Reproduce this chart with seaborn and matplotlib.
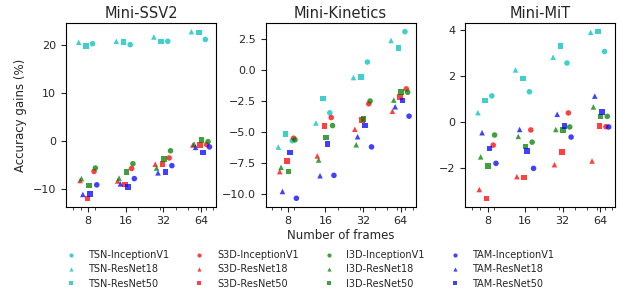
import numpy as np
import pandas as pd
import matplotlib
matplotlib.use("Agg")
import matplotlib.pyplot as plt
from matplotlib.lines import Line2D
from matplotlib.ticker import MultipleLocator, LogLocator, NullFormatter
import seaborn as sns

frames = [8, 16, 32, 64]
models = ["TSN", "S3D", "I3D", "TAM"]
backbones = ["InceptionV1", "ResNet18", "ResNet50"]
datasets = ["Mini-SSV2", "Mini-Kinetics", "Mini-MiT"]

# values per model: [InceptionV1, ResNet18, ResNet50] x frames
ssv2_tsn = [[20.3, 20.1, 20.8, 21.2], [20.6, 20.8, 21.7, 22.8], [19.8, 20.7, 20.8, 22.6]]
ssv2_s3d = [[-6.3, -5.7, -3.5, -0.7], [-8.2, -8.3, -4.8, -0.8], [-11.9, -9.0, -4.8, -0.8]]
ssv2_i3d = [[-5.6, -4.7, -2.0, -0.1], [-7.8, -7.7, -5.6, -0.6], [-9.2, -6.4, -3.7, 0.2]]
ssv2_tam = [[-9.1, -7.8, -5.1, -1.2], [-11.1, -8.9, -6.6, -1.3], [-11.0, -9.6, -6.4, -2.4]]

kin_tsn = [[-5.7, -3.45, 0.65, 3.1], [-6.22, -4.27, -0.6, 2.39], [-5.16, -2.31, -0.54, 1.77]]
kin_s3d = [[-5.5, -3.83, -2.72, -1.52], [-8.2, -6.93, -4.78, -3.32], [-7.34, -4.51, -4.02, -2.15]]
kin_i3d = [[-5.63, -4.48, -2.5, -1.79], [-7.85, -7.26, -6.03, -2.42], [-8.2, -5.43, -3.94, -1.77]]
kin_tam = [[-10.35, -8.5, -6.2, -3.72], [-9.8, -8.53, -5.38, -2.96], [-6.66, -5.98, -4.46, -2.45]]

mit_tsn = [[1.12, 1.3, 2.55, 3.05], [0.39, 2.25, 2.8, 3.88], [0.92, 1.88, 3.28, 3.91]]
mit_s3d = [[-1.02, -0.36, 0.38, -0.22], [-2.95, -2.39, -1.87, -1.71], [-3.33, -2.42, -1.33, -0.18]]
mit_i3d = [[-0.58, -0.89, -0.23, 0.23], [-1.53, -0.64, -0.34, 0.64], [-1.93, -1.08, -0.36, 0.22]]
mit_tam = [[-1.81, -2.03, -0.67, -0.23], [-0.48, -0.34, 0.32, 1.11], [-1.17, -1.28, -0.18, 0.42]]

panel_data = {
    "Mini-SSV2": [ssv2_tsn, ssv2_s3d, ssv2_i3d, ssv2_tam],
    "Mini-Kinetics": [kin_tsn, kin_s3d, kin_i3d, kin_tam],
    "Mini-MiT": [mit_tsn, mit_s3d, mit_i3d, mit_tam],
}
y_tick_step = {"Mini-SSV2": 10, "Mini-Kinetics": 2.5, "Mini-MiT": 2}

# layout: horizontal dodge (in octaves) so the markers don't overlap
backbone_shift = {"ResNet18": -0.20, "ResNet50": -0.005, "InceptionV1": 0.17}
model_shift = {"TSN": -0.055, "S3D": -0.018, "I3D": 0.018, "TAM": 0.055}

palette = {"TSN": "#00bfbf", "S3D": "#ff0000", "I3D": "#008000", "TAM": "#0000ff"}
marker_map = {"InceptionV1": "o", "ResNet18": "^", "ResNet50": "s"}

rows = []
for ds in datasets:
    for mi, m in enumerate(models):
        for bi, b in enumerate(backbones):
            for fi, f in enumerate(frames):
                rows.append(dict(dataset=ds, model=m, backbone=b, frames=f,
                                 x=f * 2 ** (backbone_shift[b] + model_shift[m]),
                                 gain=panel_data[ds][mi][bi][fi]))
df = pd.DataFrame(rows)

sns.set_style("ticks")
plt.rcParams["font.family"] = ["DejaVu Sans"]

fig, axes = plt.subplots(1, 3, figsize=(6.19, 2.96), dpi=100)
fig.subplots_adjust(left=0.1066, right=0.994, top=0.921, bottom=0.302, wspace=0.33)

for ax, ds in zip(axes, datasets):
    sub = df[df.dataset == ds]
    sns.scatterplot(data=sub, x="x", y="gain", hue="model", style="backbone",
                    palette=palette, markers=marker_map, hue_order=models,
                    style_order=backbones, s=16, alpha=0.75, linewidth=0,
                    legend=False, ax=ax)
    ax.set_xscale("log")
    ax.set_xlim(5.3, 84.5)
    ax.set_xticks(frames)
    ax.set_xticklabels([str(f) for f in frames])
    ax.xaxis.set_minor_locator(LogLocator(base=10, subs=np.arange(2, 10)))
    ax.xaxis.set_minor_formatter(NullFormatter())
    ax.yaxis.set_major_locator(MultipleLocator(y_tick_step[ds]))
    ax.set_title(ds, fontsize=10.5, pad=4)
    ax.set_xlabel("")
    ax.set_ylabel("")
    ax.tick_params(axis="both", which="major", labelsize=8, length=3.5, width=0.8)
    ax.tick_params(axis="x", which="minor", length=2, width=0.6, bottom=True)
    for sp in ax.spines.values():
        sp.set_visible(True)
        sp.set_color("black")
        sp.set_linewidth(0.8)

axes[0].set_ylabel("Accuracy gains (%)", fontsize=8.5)
axes[1].set_xlabel("Number of frames", fontsize=8.5, labelpad=2)

handles = []
labels = []
for m in models:
    for b in backbones:
        handles.append(Line2D([], [], linestyle="none", marker=marker_map[b],
                              markersize=3, markerfacecolor=palette[m],
                              markeredgewidth=0, alpha=0.75))
        labels.append(f"{m}-{b}")

fig.legend(handles, labels, ncol=4, loc="upper center",
           bbox_to_anchor=(0.497, 0.155), frameon=False, fontsize=7,
           handlelength=2.0, handletextpad=0.8, columnspacing=2.1,
           labelspacing=0.45, borderaxespad=0, borderpad=0)

fig.savefig("out.png", dpi=100)
